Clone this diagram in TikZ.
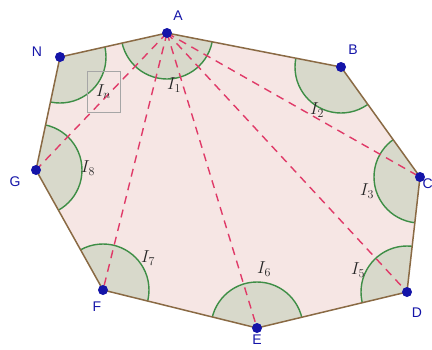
\documentclass[tikz,border=0pt]{standalone}
\usepackage{fontspec}
\setsansfont{Liberation Sans}
\begin{document}
\begin{tikzpicture}[x=1pt,y=-1pt,
  vlabel/.style={font=\sffamily\fontsize{14}{16}\selectfont, text=vblue, inner sep=0pt},
  ilabel/.style={font=\fontsize{17}{19}\selectfont, text=black!85, inner sep=0pt},
  diag/.style={draw=dashred, line width=1.4pt, dash pattern=on 8pt off 6pt},
  edge/.style={draw=edgebrown, line width=1.5pt, line join=round},
  vdot/.style={circle, fill=vblue, inner sep=0pt, minimum size=10pt}]
\definecolor{vblue}{HTML}{1414A8}
\definecolor{edgebrown}{HTML}{8A6A44}
\definecolor{polyfill}{HTML}{F6E6E4}
\definecolor{secfill}{HTML}{D8D9CB}
\definecolor{arcgreen}{HTML}{3E8E46}
\definecolor{dashred}{HTML}{E03A68}
\useasboundingbox (0,0) rectangle (432,349);
\coordinate (A) at (167,33);
\coordinate (B) at (341,67);
\coordinate (C) at (420,177);
\coordinate (D) at (407,292);
\coordinate (E) at (257,328);
\coordinate (F) at (103,290);
\coordinate (G) at (36,170);
\coordinate (N) at (60,57);
% polygon fill
\fill[polyfill] (A) -- (B) -- (C) -- (D) -- (E) -- (F) -- (G) -- (N) -- cycle;
% angle sectors
\begin{scope}
  \clip (A) -- (B) -- (C) -- (D) -- (E) -- (F) -- (G) -- (N) -- cycle;
  \foreach \v in {A,B,C,D,E,F,G,N}{
    \fill[secfill] (\v) circle[radius=46];
    \draw[arcgreen, line width=1.4pt] (\v) circle[radius=46];
  }
\end{scope}
% diagonals
\foreach \v in {C,D,E,F,G}{
  \draw[diag] (A) -- (\v);
}
% edges
\draw[edge] (A) -- (B) -- (C) -- (D) -- (E) -- (F) -- (G) -- (N) -- cycle;
% vertices
\foreach \v in {A,B,C,D,E,F,G,N}{
  \node[vdot] (d\v) at (\v) {};
}
% vertex labels
\node[vlabel] (lA) at (178,16) {A};
\node[vlabel] (lB) at (353,50) {B};
\node[vlabel, anchor=west] (lC) at (422.5,184) {C};
\node[vlabel] (lD) at (417,313) {D};
\node[vlabel] (lE) at (257,340) {E};
\node[vlabel] (lF) at (97,307) {F};
\node[vlabel] (lG) at (15,182) {G};
\node[vlabel] (lN) at (37,52) {N};
% angle labels
\node[ilabel] (i1) at (174,85) {$I_1$};
\node[ilabel] (i2) at (317,110) {$I_2$};
\node[ilabel] (i3) at (367,191) {$I_3$};
\node[ilabel] (i5) at (358,270) {$I_5$};
\node[ilabel] (i6) at (264,269) {$I_6$};
\node[ilabel] (i7) at (148,258) {$I_7$};
\node[ilabel] (i8) at (88,168) {$I_8$};
\node[ilabel, draw=black!35, line width=0.6pt, minimum width=33pt, minimum height=41pt] (in) at (103.5,91.5) {$I_n$};
\end{tikzpicture}
\end{document}
